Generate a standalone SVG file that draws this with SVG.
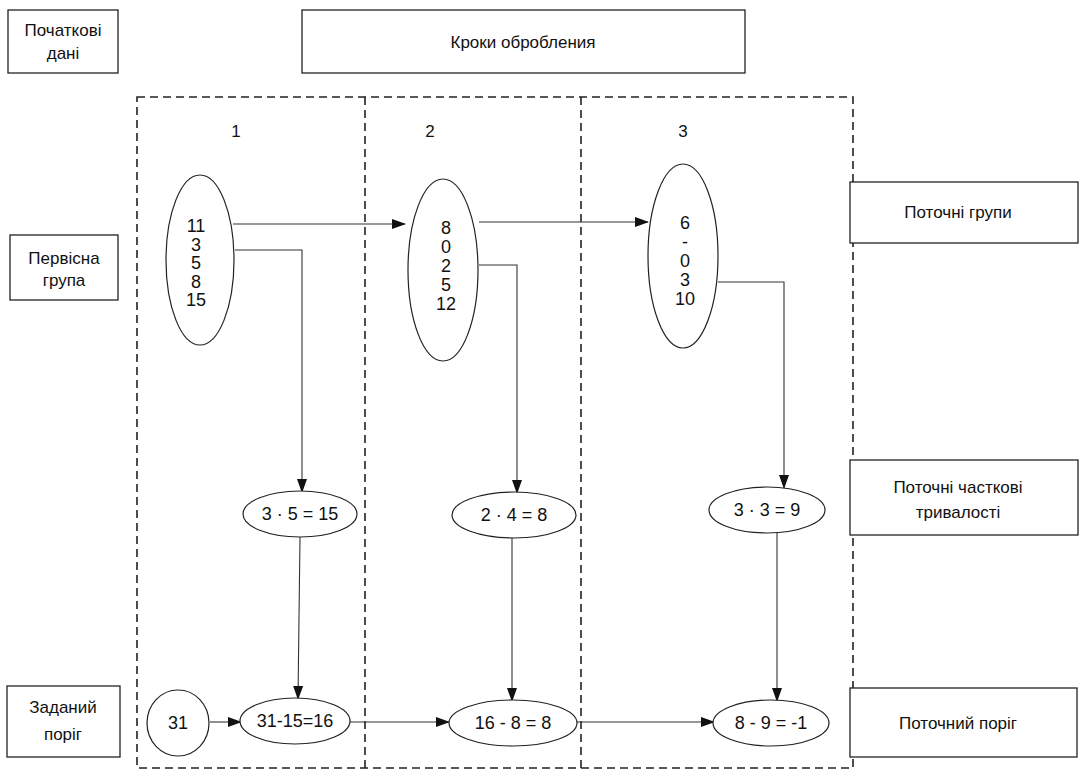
<svg xmlns="http://www.w3.org/2000/svg" width="1083" height="773" viewBox="0 0 1083 773">
<style>
text{font-family:"Liberation Sans",Arial,sans-serif;font-size:17px;fill:#111;text-anchor:middle}
.num{font-size:18px}
.box{fill:#fff;stroke:#222;stroke-width:1.3}
.el{fill:#fff;stroke:#222;stroke-width:1.2}
.dash{fill:none;stroke:#222;stroke-width:1.6;stroke-dasharray:8 5}
.con{fill:none;stroke:#333;stroke-width:1.1}
</style>
<defs>
<marker id="ah" markerWidth="14" markerHeight="10" refX="13" refY="5" orient="auto" markerUnits="userSpaceOnUse">
<path d="M0,0 L14,5 L0,10 Z" fill="#111"/>
</marker>
</defs>
<rect width="1083" height="773" fill="#fff"/>
<g id="frame">
<rect class="dash" x="137" y="97" width="716" height="671"/>
<line class="dash" x1="365" y1="97" x2="365" y2="768"/>
<line class="dash" x1="581" y1="97" x2="581" y2="768"/>
</g>
<g id="connectors">
<line class="con" x1="233" y1="224" x2="405" y2="224" stroke-width="1.8" marker-end="url(#ah)"/>
<line class="con" x1="479" y1="222" x2="648" y2="222" stroke-width="1.5" marker-end="url(#ah)"/>
<polyline class="con" points="235,250 302,250 302,492" marker-end="url(#ah)"/>
<polyline class="con" points="479,265 517,265 517,493" marker-end="url(#ah)"/>
<polyline class="con" points="718,282 784,282 784,488" marker-end="url(#ah)"/>
<line class="con" x1="300" y1="537" x2="298" y2="699" marker-end="url(#ah)"/>
<line class="con" x1="512" y1="538" x2="512" y2="701" marker-end="url(#ah)"/>
<line class="con" x1="777" y1="532" x2="777" y2="701" marker-end="url(#ah)"/>
<line class="con" x1="210" y1="722" x2="241" y2="722" stroke-width="1.5" marker-end="url(#ah)"/>
<line class="con" x1="350" y1="722" x2="449" y2="722" stroke-width="1.5" marker-end="url(#ah)"/>
<line class="con" x1="577" y1="722" x2="714" y2="722" stroke-width="1.5" marker-end="url(#ah)"/>
</g>
<g id="n-initial"><rect class="box" x="8" y="10" width="110" height="63"/><text x="63" y="36">Початкові</text><text x="63" y="59">дані</text></g>
<g id="n-steps"><rect class="box" x="302" y="10" width="443" height="63"/><text x="523" y="48">Кроки обробления</text></g>
<g id="n-primary"><rect class="box" x="10" y="235" width="108" height="65"/><text x="64" y="264">Первісна</text><text x="64" y="286">група</text></g>
<g id="n-threshold"><rect class="box" x="7" y="686" width="113" height="71"/><text x="63" y="713">Заданий</text><text x="63" y="740">поріг</text></g>
<g id="n-curgroups"><rect class="box" x="850" y="182" width="228" height="61"/><text x="958" y="218">Поточні групи</text></g>
<g id="n-partial"><rect class="box" x="850" y="460" width="228" height="75"/><text x="958" y="493">Поточні часткові</text><text x="958" y="518">тривалості</text></g>
<g id="n-curthr"><rect class="box" x="850" y="688" width="227" height="69"/><text x="958" y="729">Поточний поріг</text></g>
<g id="labels"><text x="236" y="137">1</text><text x="430" y="137">2</text><text x="683" y="137">3</text></g>
<g id="g1" class="num"><ellipse class="el" cx="200" cy="260" rx="34" ry="85"/>
<text class="num" x="196" y="232">11</text><text class="num" x="196" y="251">3</text><text class="num" x="196" y="269">5</text><text class="num" x="196" y="288">8</text><text class="num" x="196" y="306">15</text></g>
<g id="g2"><ellipse class="el" cx="443" cy="270" rx="35" ry="91"/>
<text class="num" x="446" y="234">8</text><text class="num" x="446" y="253">0</text><text class="num" x="446" y="272">2</text><text class="num" x="446" y="291">5</text><text class="num" x="446" y="310">12</text></g>
<g id="g3"><ellipse class="el" cx="683" cy="256" rx="35" ry="92"/>
<text class="num" x="685" y="229">6</text><text class="num" x="685" y="248">-</text><text class="num" x="685" y="267">0</text><text class="num" x="685" y="286">3</text><text class="num" x="685" y="305">10</text></g>
<g id="p1"><ellipse class="el" cx="300" cy="514" rx="57" ry="23"/><text class="num" x="300" y="520">3 · 5 = 15</text></g>
<g id="p2"><ellipse class="el" cx="514" cy="515" rx="62" ry="23"/><text class="num" x="514" y="521">2 · 4 = 8</text></g>
<g id="p3"><ellipse class="el" cx="767" cy="510" rx="58" ry="23"/><text class="num" x="767" y="516">3 · 3 = 9</text></g>
<g id="t0"><ellipse class="el" cx="178" cy="723" rx="31" ry="33"/><text class="num" x="178" y="729">31</text></g>
<g id="t1"><ellipse class="el" cx="295" cy="721" rx="55" ry="23"/><text class="num" x="295" y="727">31-15=16</text></g>
<g id="t2"><ellipse class="el" cx="513" cy="723" rx="64" ry="23"/><text class="num" x="513" y="729">16 - 8 = 8</text></g>
<g id="t3"><ellipse class="el" cx="771" cy="723" rx="58" ry="23"/><text class="num" x="771" y="729">8 - 9 = -1</text></g>
</svg>
